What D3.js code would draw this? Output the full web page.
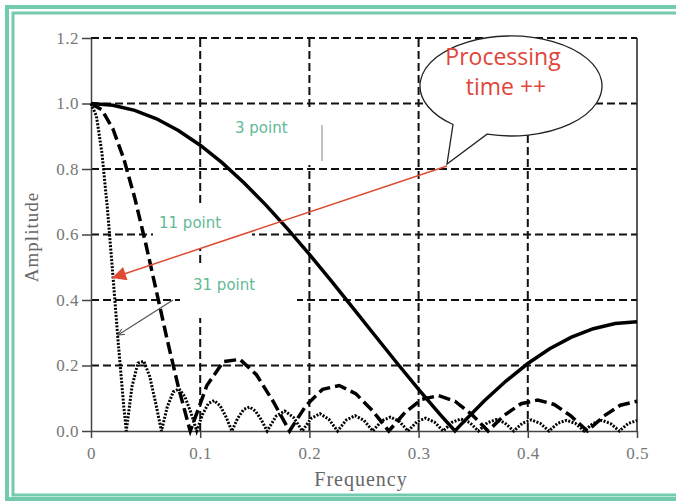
<!DOCTYPE html>
<meta charset="utf-8">
<style>
    body { margin: 0; background: #fff; }
    .grid line { stroke: #111; stroke-width: 2; stroke-dasharray: 8,4; }
    .axis path, .axis line { stroke: #444; stroke-width: 1.5; }
    .axis text { font-family: "Liberation Serif", serif; font-size: 17px; fill: #777; letter-spacing: 0.5px; }
    .curve { fill: none; stroke: #000; }
    .tag { font-family: "DejaVu Sans", sans-serif; font-size: 15px; fill: #62b995; }
</style>
<body>
<script src="https://d3js.org/d3.v7.min.js"></script>
<script>
    // 3 point moving average
    var freq3 = [0, 0.02, 0.04, 0.06, 0.08, 0.10, 0.12, 0.14, 0.16, 0.18, 0.20, 0.22, 0.24, 0.26, 0.28, 0.30, 0.32, 0.3333,
        0.34, 0.36, 0.38, 0.40, 0.42, 0.44, 0.46, 0.48, 0.50];
    var amp3 = [1, 0.9947, 0.9791, 0.9532, 0.9175, 0.8727, 0.8193, 0.7583, 0.6906, 0.6172, 0.5393, 0.4583, 0.3752, 0.2915, 0.2084, 0.1273, 0.0495, 0,
        0.0239, 0.0916, 0.1526, 0.2060, 0.2509, 0.2865, 0.3124, 0.3281, 0.3333];

    // 11 point
    var freq11 = [0, 0.01, 0.02, 0.03, 0.04, 0.05, 0.06, 0.07, 0.08, 0.09, 0.0909,
        0.1061, 0.1212, 0.1364, 0.1515, 0.1667, 0.1818,
        0.1970, 0.2121, 0.2273, 0.2424, 0.2576, 0.2727,
        0.2879, 0.3030, 0.3182, 0.3333, 0.3485, 0.3636,
        0.3788, 0.3939, 0.4091, 0.4242, 0.4394, 0.4545,
        0.4697, 0.4848, 0.5];
    var amp11 = [1, 0.9804, 0.9229, 0.8315, 0.7125, 0.5740, 0.4251, 0.2756, 0.1346, 0.0102, 0,
        0.1390, 0.2118, 0.2188, 0.1718, 0.0909, 0,
        0.0784, 0.1274, 0.1388, 0.1141, 0.0628, 0,
        0.0578, 0.0966, 0.1081, 0.0909, 0.0512, 0,
        0.0490, 0.0833, 0.0947, 0.0810, 0.0463, 0,
        0.0457, 0.0788, 0.0909];

    // 31 point
    var freq31 = [0, 0.005, 0.01, 0.015, 0.02, 0.025, 0.03, 0.0323,
        0.0376, 0.0430, 0.0484, 0.0538, 0.0591, 0.0645,
        0.0699, 0.0753, 0.0806, 0.0860, 0.0914, 0.0968,
        0.1022, 0.1075, 0.1129, 0.1183, 0.1237, 0.1290,
        0.1344, 0.1398, 0.1452, 0.1505, 0.1559, 0.1613,
        0.1694, 0.1774, 0.1855, 0.1935,
        0.2016, 0.2097, 0.2177, 0.2258,
        0.2339, 0.2419, 0.2500, 0.2581,
        0.2661, 0.2742, 0.2823, 0.2903,
        0.2984, 0.3065, 0.3145, 0.3226,
        0.3306, 0.3387, 0.3468, 0.3548,
        0.3629, 0.3710, 0.3790, 0.3871,
        0.3952, 0.4032, 0.4113, 0.4194,
        0.4274, 0.4355, 0.4435, 0.4516,
        0.4597, 0.4677, 0.4758, 0.4839,
        0.4919, 0.5];
    var amp31 = [1, 0.9611, 0.8494, 0.6806, 0.4777, 0.2670, 0.0748, 0,
        0.1367, 0.2074, 0.2130, 0.1662, 0.0873, 0,
        0.0741, 0.1193, 0.1287, 0.1046, 0.0570, 0,
        0.0511, 0.0843, 0.0929, 0.0769, 0.0426, 0,
        0.0394, 0.0657, 0.0732, 0.0613, 0.0343, 0,
        0.0450, 0.0610, 0.0414, 0,
        0.0385, 0.0527, 0.0361, 0,
        0.0340, 0.0468, 0.0323, 0,
        0.0307, 0.0425, 0.0294, 0,
        0.0283, 0.0393, 0.0273, 0,
        0.0265, 0.0369, 0.0257, 0,
        0.0251, 0.0351, 0.0246, 0,
        0.0241, 0.0338, 0.0237, 0,
        0.0234, 0.0329, 0.0232, 0,
        0.0230, 0.0324, 0.0229, 0,
        0.0228, 0.0323];

    var xTicks = [0, 0.1, 0.2, 0.3, 0.4, 0.5];
    var xTickLabels = ["0", "0.1", "0.2", "0.3", "0.4", "0.5"];
    var yTicks = [0, 0.2, 0.4, 0.6, 0.8, 1.0, 1.2];

    var canvasWidth = 676, canvasHeight = 502;
    var svg = d3.select("body").append("svg")
        .attr("width", canvasWidth)
        .attr("height", canvasHeight);

    // teal double frame
    svg.append("rect").attr("x", 7).attr("y", 7).attr("width", 700).attr("height", 492)
        .attr("fill", "none").attr("stroke", "#72cbae").attr("stroke-width", 4);
    svg.append("rect").attr("x", 13).attr("y", 13).attr("width", 700).attr("height", 482)
        .attr("fill", "none").attr("stroke", "#72cbae").attr("stroke-width", 3);

    var x = d3.scaleLinear().domain([0, 0.5]).range([91, 637]),
        y = d3.scaleLinear().domain([0, 1.2]).range([431, 38]);

    // grid
    var grid = svg.append("g").attr("class", "grid");
    grid.selectAll(".h").data(yTicks.slice(1)).enter().append("line")
        .attr("x1", x(0)).attr("x2", x(0.5))
        .attr("y1", d => y(d)).attr("y2", d => y(d));
    grid.selectAll(".v").data(xTicks.slice(1, -1)).enter().append("line")
        .attr("x1", d => x(d)).attr("x2", d => x(d))
        .attr("y1", y(0)).attr("y2", y(1.2));

    // right edge
    svg.append("line").attr("x1", x(0.5)).attr("x2", x(0.5)).attr("y1", y(0)).attr("y2", y(1.2))
        .attr("stroke", "#222").attr("stroke-width", 1.5);

    // axes
    svg.append("g").attr("class", "axis")
        .attr("transform", "translate(" + x(0) + ",0)")
        .call(d3.axisLeft(y).tickValues(yTicks).tickFormat(d3.format(".1f")).tickSize(9).tickSizeOuter(0).tickPadding(3));
    svg.append("g").attr("class", "axis")
        .attr("transform", "translate(0," + y(0) + ")")
        .call(d3.axisBottom(x).tickValues(xTicks).tickFormat((d, i) => xTickLabels[i]).tickSize(7).tickSizeOuter(0).tickPadding(9));

    svg.append("text")
        .attr("transform", "translate(38,237) rotate(-90)")
        .attr("text-anchor", "middle")
        .style("font-family", "Liberation Serif, serif").style("font-size", "19px")
        .style("letter-spacing", "1px").attr("fill", "#666")
        .text("Amplitude");
    svg.append("text")
        .attr("x", 361).attr("y", 486)
        .attr("text-anchor", "middle")
        .style("font-family", "Liberation Serif, serif").style("font-size", "20px")
        .style("letter-spacing", "1px").attr("fill", "#666")
        .text("Frequency");

    // white label patches hiding the grid
    var patches = [[223, 108, 104, 57], [153, 207, 99, 41], [180, 266, 117, 52]];
    svg.selectAll(".patch").data(patches).enter().append("rect")
        .attr("x", d => d[0]).attr("y", d => d[1]).attr("width", d => d[2]).attr("height", d => d[3])
        .attr("fill", "#fff");
    svg.append("line").attr("x1", 322).attr("x2", 322).attr("y1", 125).attr("y2", 161)
        .attr("stroke", "#999").attr("stroke-width", 1.2);

    // curves
    var line = d3.line()
        .x(d => x(d[0]))
        .y(d => y(d[1]));

    svg.append("path").attr("class", "curve")
        .attr("d", line(d3.zip(freq31, amp31)))
        .attr("stroke-width", 3).attr("stroke-dasharray", "2,1.5");
    svg.append("path").attr("class", "curve")
        .attr("d", line(d3.zip(freq11, amp11)))
        .attr("stroke-width", 3.5).attr("stroke-dasharray", "12,5");
    svg.append("path").attr("class", "curve")
        .attr("d", line(d3.zip(freq3, amp3)))
        .attr("stroke-width", 3.5);

    // arrow markers
    var defs = svg.append("defs");
    defs.append("marker").attr("id", "redhead")
        .attr("viewBox", "0 0 10 10").attr("refX", 10).attr("refY", 5)
        .attr("markerWidth", 18).attr("markerHeight", 14).attr("markerUnits", "userSpaceOnUse")
        .attr("orient", "auto")
        .append("path").attr("d", "M0,0 L10,5 L0,10 Z").attr("fill", "#e04a32");
    defs.append("marker").attr("id", "grayhead")
        .attr("viewBox", "0 0 10 10").attr("refX", 10).attr("refY", 5)
        .attr("markerWidth", 9).attr("markerHeight", 7).attr("markerUnits", "userSpaceOnUse")
        .attr("orient", "auto")
        .append("path").attr("d", "M0,0 L10,5 L0,10").attr("fill", "none").attr("stroke", "#555").attr("stroke-width", 1.5);

    // 31 point pointer
    svg.append("line").attr("x1", 173).attr("y1", 300).attr("x2", 118).attr("y2", 335)
        .attr("stroke", "#555").attr("stroke-width", 1.2).attr("marker-end", "url(#grayhead)");

    // labels
    var tags = [["3 point", 235, 133], ["11 point", 159, 228], ["31 point", 193, 290]];
    svg.selectAll(".tag").data(tags).enter().append("text")
        .attr("class", "tag")
        .attr("x", d => d[1]).attr("y", d => d[2])
        .text(d => d[0]);

    // red arrow
    svg.append("line").attr("x1", 447).attr("y1", 166).attr("x2", 112).attr("y2", 278)
        .attr("stroke", "#e04a32").attr("stroke-width", 1.5).attr("marker-end", "url(#redhead)");

    // speech bubble
    svg.append("path")
        .attr("d", "M453,124.5 A91,50 0 1,1 487,134.2 L447,164 Z")
        .attr("fill", "#fff").attr("stroke", "#222").attr("stroke-width", 1.3);
    svg.append("text").attr("x", 503).attr("y", 65).attr("text-anchor", "middle")
        .style("font-family", "Open Sans, sans-serif").style("font-size", "23px").attr("fill", "#e0453a")
        .text("Processing");
    svg.append("text").attr("x", 506).attr("y", 95).attr("text-anchor", "middle")
        .style("font-family", "Open Sans, sans-serif").style("font-size", "23px").attr("fill", "#e0453a")
        .text("time ++");
</script>
</body>
